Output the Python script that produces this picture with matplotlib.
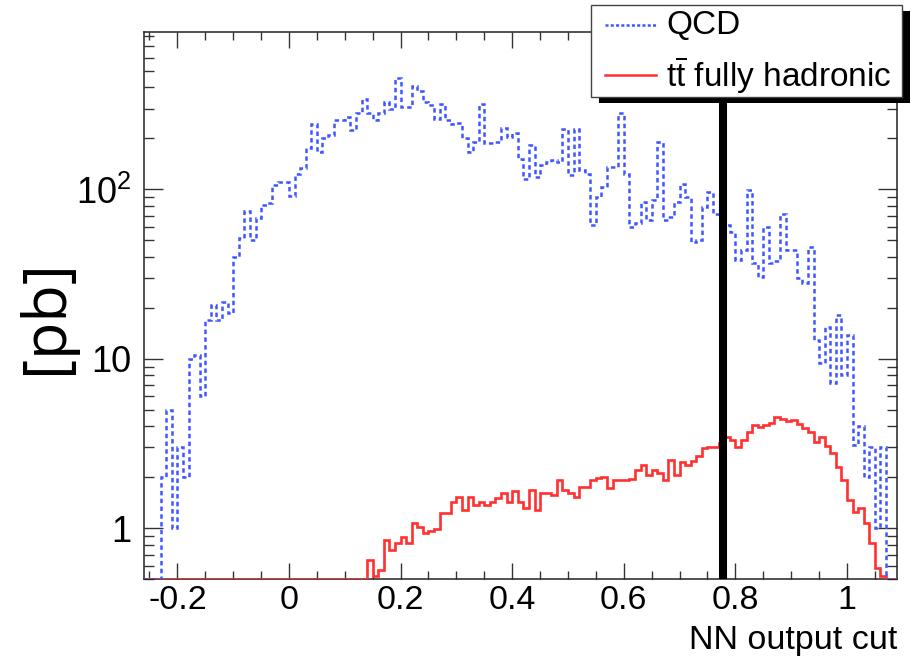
import numpy as np
import matplotlib
matplotlib.use("Agg")
import matplotlib.pyplot as plt
from matplotlib.patches import Rectangle
from matplotlib.lines import Line2D
from matplotlib.ticker import FixedLocator, FixedFormatter, LogLocator, MultipleLocator, NullFormatter

# ---------------- data ----------------
bin_edges = np.round(np.arange(-0.26, 1.0901, 0.01), 2)   # 135 bins of width 0.01

qcd_pb = [
    0, 0, 0,
    2.0, 5.0, 1.0, 3.0, 2.0, 10, 10.5, 6.0, 17, 20.8,
    17, 21.6, 18.6, 40, 52, 75, 50, 68, 81, 83,
    106, 111, 111, 92, 124, 133, 175, 245, 167, 200,
    209, 256, 258, 268, 224, 281, 344, 281, 256, 281,
    329, 300, 452, 307, 307, 407, 382, 329, 314, 262,
    321, 256, 245, 247, 200, 167, 191, 321, 187, 187,
    191, 229, 204, 214, 152, 116, 183, 119, 139, 146,
    149, 146, 226, 121, 226, 130, 124, 61.6, 90.4, 104,
    136, 136, 281, 124, 60.2, 63, 84.5, 65.9, 86.5, 191,
    65.9, 68.9, 84.5, 108, 90, 49, 50.2, 79, 96.8, 72.1,
    70.5, 62, 56, 38.3, 43.9, 99.1, 36.6, 30.5, 60.2, 37,
    38, 72.1, 43.9, 43.9, 29.9, 27.9, 45.8, 12.9, 9.4, 15.5,
    7.2, 18.1, 8.0, 13.8, 3.1, 4.0, 2.0, 3.0, 1.0, 3.0,
    0, 0,
]

ttbar_pb = [
    0, 0, 0,
    0, 0, 0, 0, 0, 0, 0, 0, 0, 0,
    0, 0, 0, 0, 0, 0, 0, 0, 0, 0,
    0, 0, 0, 0, 0, 0, 0, 0, 0, 0,
    0, 0, 0, 0, 0, 0, 0, 0.65, 0.52, 0.57,
    0.85, 0.745, 0.815, 0.89, 0.82, 1.07, 1.02, 0.934, 0.96, 0.987,
    1.225, 1.225, 1.435, 1.536, 1.28, 1.52, 1.372, 1.435, 1.37, 1.435,
    1.503, 1.62, 1.435, 1.667, 1.435, 1.312, 1.68, 1.28, 1.61, 1.61,
    1.57, 1.93, 1.68, 1.61, 1.52, 1.75, 1.76, 1.93, 1.97, 2.01,
    1.72, 1.93, 1.93, 1.93, 1.95, 2.21, 2.36, 2.06, 2.21, 2.13,
    1.93, 2.53, 2.06, 2.47, 2.36, 2.50, 2.67, 2.96, 3.03, 3.03,
    3.2, 3.47, 3.3, 3.03, 3.3, 3.7, 4.07, 3.97, 4.07, 4.16,
    4.55, 4.4, 4.3, 4.38, 4.1, 3.9, 3.7, 3.24, 3.47, 3.05,
    2.77, 2.31, 1.93, 1.47, 1.25, 1.31, 1.07, 0.815, 0.58, 0.52,
    0, 0,
]

nn_cut = 0.777

xtick_vals = [-0.2, 0.0, 0.2, 0.4, 0.6, 0.8, 1.0]
xtick_labels = ["-0.2", "0", "0.2", "0.4", "0.6", "0.8", "1"]
ytick_vals = [1, 10, 100]
ytick_labels = ["1", "10", r"$10^{2}$"]
legend_labels = ["QCD", r"$\mathrm{t}\overline{\mathrm{t}}$ fully hadronic"]
x_label = "NN output cut"
y_label = "[pb]"

# ---------------- style ----------------
plt.rcParams["font.family"] = ["Liberation Sans", "DejaVu Sans"]
plt.rcParams["mathtext.fontset"] = "custom"
plt.rcParams["mathtext.rm"] = "Liberation Sans"
plt.rcParams["mathtext.it"] = "Liberation Sans:italic"
plt.rcParams["lines.scale_dashes"] = False

W_PX, H_PX = 911, 664
fig = plt.figure(figsize=(W_PX / 100, H_PX / 100), dpi=100)

XMIN, XMAX = -0.26, 1.09
YMIN, YMAX = 0.5, 850
left_px, right_px, top_px, bot_px = 143.9, 897.2, 32.0, 579.3
ax = fig.add_axes([left_px / W_PX, 1 - bot_px / H_PX,
                   (right_px - left_px) / W_PX, (bot_px - top_px) / H_PX])
ax.set_xlim(XMIN, XMAX)
ax.set_yscale("log")
ax.set_ylim(YMIN, YMAX)

blue = "#3f56ff"
red = "#ff3030"

qcd_draw = np.maximum(np.asarray(qcd_pb, float), YMIN)
tt_draw = np.maximum(np.asarray(ttbar_pb, float), YMIN)

ax.stairs(tt_draw, bin_edges, baseline=None, color=red, linewidth=1.9, zorder=3)
ax.stairs(qcd_draw, bin_edges, baseline=None, color=blue, linewidth=1.8,
          linestyle=(0, (3.2, 2.4)), zorder=4)

ax.axvline(nn_cut, color="black", linewidth=5.8, zorder=5)

# axes / ticks
for s in ax.spines.values():
    s.set_linewidth(1.1)
    s.set_color("#222222")
ax.xaxis.set_major_locator(FixedLocator(xtick_vals))
ax.xaxis.set_major_formatter(FixedFormatter(xtick_labels))
ax.xaxis.set_minor_locator(MultipleLocator(0.05))
ax.yaxis.set_major_locator(FixedLocator(ytick_vals))
ax.yaxis.set_major_formatter(FixedFormatter(ytick_labels))
ax.yaxis.set_minor_locator(LogLocator(base=10, subs=np.arange(2, 10), numticks=20))
ax.yaxis.set_minor_formatter(NullFormatter())

ax.tick_params(axis="both", which="both", direction="in", top=True, right=True,
               color="#333333", width=1.0)
ax.tick_params(axis="x", which="major", length=11.5, labelsize=24.5, pad=4)
ax.tick_params(axis="x", which="minor", length=6)
ax.tick_params(axis="y", which="major", length=14, labelsize=26, pad=9)
ax.tick_params(axis="y", which="minor", length=7.5)

# axis titles
fig.text(897 / W_PX, 1 - 641 / H_PX, x_label, ha="right", va="center", fontsize=24.5)
fig.text(46 / W_PX, 1 - 317 / H_PX, y_label, ha="center", va="center", rotation=90,
         fontsize=44, family=["Open Sans", "DejaVu Sans"])

# legend (ROOT style box with solid shadow)
def fx(px):
    return px / W_PX

def fy(py):
    return 1 - py / H_PX

box_l, box_r, box_t, box_b = 591, 902, 5, 97
sh = 6
fig.patches.append(Rectangle((fx(box_l + sh + 2), fy(box_b + sh)),
                             fx(box_r - box_l), (box_b - box_t) / H_PX,
                             transform=fig.transFigure, facecolor="black",
                             edgecolor="none", zorder=10))
fig.patches.append(Rectangle((fx(box_l), fy(box_b)),
                             fx(box_r - box_l), (box_b - box_t) / H_PX,
                             transform=fig.transFigure, facecolor="white",
                             edgecolor="#444444", linewidth=1.0, zorder=11))
entry_y = [25, 75]
entry_col = [blue, red]
entry_ls = [(0, (2.2, 1.6)), "-"]
for yy, col, ls, lab in zip(entry_y, entry_col, entry_ls, legend_labels):
    fig.lines.append(Line2D([fx(605), fx(656)], [fy(yy), fy(yy)], transform=fig.transFigure,
                            color=col, linewidth=1.8, linestyle=ls, zorder=12))
    fig.text(fx(666), fy(yy), lab, ha="left", va="center", fontsize=24, zorder=12)

fig.savefig("out.png", dpi=100)
